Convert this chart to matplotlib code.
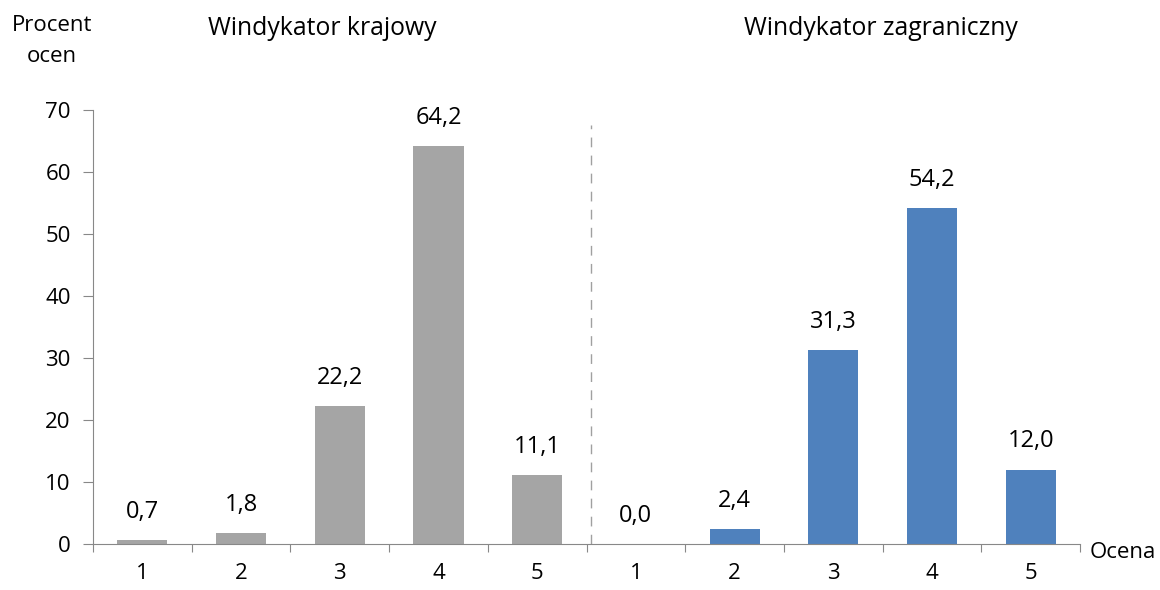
import numpy as np
import matplotlib.pyplot as plt

plt.rcParams['font.family'] = ['Open Sans', 'DejaVu Sans']

# Oceny i procenty dla obu grup windykatorów
oceny = ['1', '2', '3', '4', '5']
krajowy = [0.7, 1.8, 22.2, 64.2, 11.1]
zagraniczny = [0.0, 2.4, 31.3, 54.2, 12.0]

fig = plt.figure(figsize=(11.6, 5.9), dpi=100)
ax = fig.add_axes([0.0802, 0.078, 0.8509, 0.7356])

x_kraj = np.arange(len(oceny))
x_zagr = np.arange(len(oceny)) + len(oceny)
ax.bar(x_kraj, krajowy, width=0.507, color='#A5A5A5')
ax.bar(x_zagr, zagraniczny, width=0.507, color='#4F81BD')

def fmt(v):
    return f"{v:.1f}".replace('.', ',')

for xs, vals in ((x_kraj, krajowy), (x_zagr, zagraniczny)):
    for xi, v in zip(xs, vals):
        ax.text(xi, v + 2.6, fmt(v), ha='center', va='bottom', fontsize=17, color='black')

ax.set_xlim(-0.5, 9.5)
ax.set_ylim(0, 70)
ax.set_yticks(range(0, 71, 10))
ax.set_xticks(np.arange(-0.5, 10, 1))
ax.set_xticklabels([])
ax.set_xticks(np.arange(10), minor=True)
ax.set_xticklabels(oceny + oceny, minor=True)
ax.tick_params(axis='x', which='minor', length=0, pad=14, labelsize=16)
ax.tick_params(axis='x', which='major', length=6, direction='out', color='#888888')
ax.tick_params(axis='y', length=7, direction='out', color='#888888', labelsize=16, pad=9)

for s in ('top', 'right'):
    ax.spines[s].set_visible(False)
for s in ('left', 'bottom'):
    ax.spines[s].set_color('#888888')

# linia rozdzielająca grupy
ax.plot([4.55, 4.55], [0, 67.6], ls=(0, (7, 6)), color='#A0A0A0', lw=1)

fig.text(0.278, 0.952, 'Windykator krajowy', ha='center', va='center', fontsize=17.8)
fig.text(0.759, 0.952, 'Windykator zagraniczny', ha='center', va='center', fontsize=17.8)
fig.text(0.045, 0.931, 'Procent\nocen', ha='center', va='center', fontsize=16, linespacing=1.65)
fig.text(0.968, 0.063, 'Ocena', ha='center', va='center', fontsize=16)

fig.savefig('out.png', dpi=100)
